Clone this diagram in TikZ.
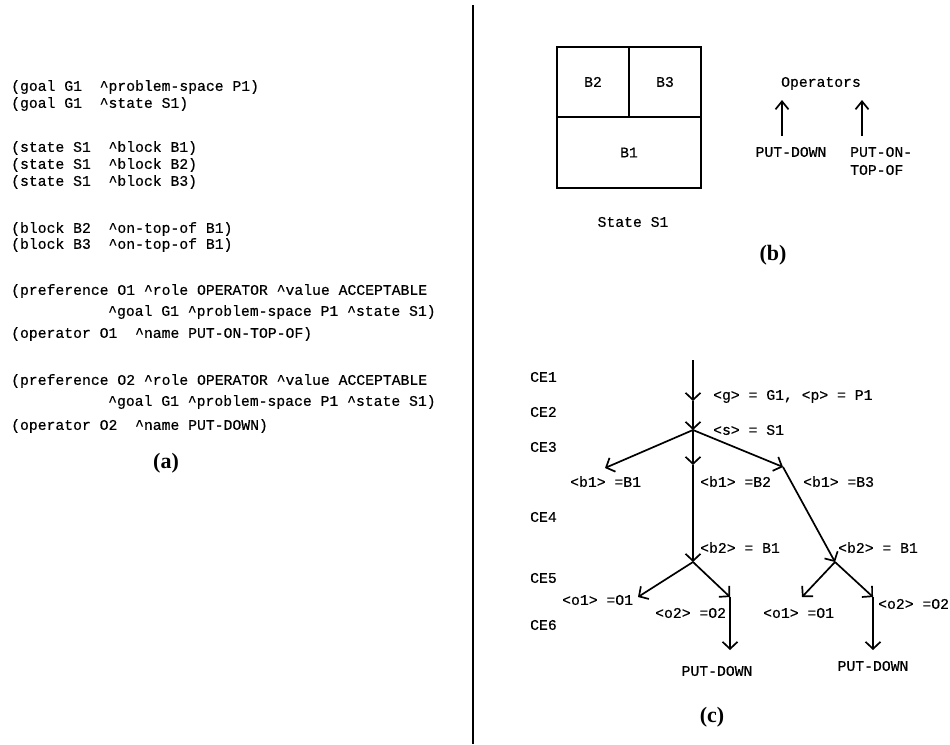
\documentclass[tikz,border=0pt]{standalone}
\usepackage{fontspec}
\setmainfont{Liberation Serif}
\newfontfamily\courf[FakeBold=0.4]{Liberation Mono}
\usetikzlibrary{arrows.meta}
\newcommand\caret{\textasciicircum}
\begin{document}
\begin{tikzpicture}[x=1pt,y=-1pt,
  tt/.style={font=\courf\fontsize{14.75}{16}\selectfont, inner sep=0pt, text height=9.7pt, text depth=0pt, anchor=west},
  ttc/.style={tt, anchor=center},
  lab/.style={font=\bfseries\fontsize{22}{24}\selectfont, inner sep=0pt},
  blk/.style={draw, line width=1.7pt, font=\courf\fontsize{14.75}{16}\selectfont, inner sep=0pt, text height=9.7pt, text depth=0pt},
  arr/.style={line width=1.7pt, -{Straight Barb[length=7pt,width=15pt]}},
  arrup/.style={line width=1.7pt, -{Straight Barb[length=8pt,width=13pt]}}]
\useasboundingbox (0,0) rectangle (950,744);
\fill[white] (0,0) rectangle (950,744);

% divider
\coordinate (dtop) at (473,5);
\coordinate (dbot) at (473,744);
\draw[line width=2.8pt] (dtop) -- (dbot);

% ---------- panel (a)
\node[tt] (l1) at (11,86) {(goal G1\ \ \caret problem-space P1)};
\node[tt] (l2) at (11,103) {(goal G1\ \ \caret state S1)};
\node[tt] (l3) at (11,147) {(state S1\ \ \caret block B1)};
\node[tt] (l4) at (11,164) {(state S1\ \ \caret block B2)};
\node[tt] (l5) at (11,181) {(state S1\ \ \caret block B3)};
\node[tt] (l6) at (11,228) {(block B2\ \ \caret on-top-of B1)};
\node[tt] (l7) at (11,244) {(block B3\ \ \caret on-top-of B1)};
\node[tt] (l8) at (11,290) {(preference O1 \caret role OPERATOR \caret value ACCEPTABLE};
\node[tt] (l9) at (108,311) {\caret goal G1 \caret problem-space P1 \caret state S1)};
\node[tt] (l10) at (11,333) {(operator O1\ \ \caret name PUT-ON-TOP-OF)};
\node[tt] (l11) at (11,380) {(preference O2 \caret role OPERATOR \caret value ACCEPTABLE};
\node[tt] (l12) at (108,401) {\caret goal G1 \caret problem-space P1 \caret state S1)};
\node[tt] (l13) at (11,425) {(operator O2\ \ \caret name PUT-DOWN)};
\node[lab] (capa) at (166,463) {(a)};

% ---------- panel (b)
\node[blk, minimum width=72pt, minimum height=70pt] (bB2) at (593,82) {B2};
\node[blk, minimum width=72pt, minimum height=70pt] (bB3) at (665,82) {B3};
\node[blk, minimum width=144pt, minimum height=71pt] (bB1) at (629,152.5) {B1};
\node[ttc] (state) at (633,222) {State S1};
\node[ttc] (ops) at (821,82) {Operators};
\node[ttc] (pd) at (791,152) {PUT-DOWN};
\node[tt] (pt1) at (850,152) {PUT-ON-};
\node[tt] (pt2) at (850,170) {TOP-OF};
\coordinate (u1s) at (782,136);
\coordinate (u1e) at (782,100);
\coordinate (u2s) at (862,136);
\coordinate (u2e) at (862,100);
\draw[arrup] (u1s) -- (u1e);
\draw[arrup] (u2s) -- (u2e);
\node[lab] (capb) at (773,255) {(b)};

% ---------- panel (c)
\node[tt] (ce1) at (530,377) {CE1};
\node[tt] (ce2) at (530,412) {CE2};
\node[tt] (ce3) at (530,447) {CE3};
\node[tt] (ce4) at (530,517) {CE4};
\node[tt] (ce5) at (530,578) {CE5};
\node[tt] (ce6) at (530,625) {CE6};

\coordinate (t0) at (693,360);
\coordinate (g) at (693,401);
\coordinate (j1) at (693,430);
\coordinate (lb1) at (605,468);
\coordinate (m1) at (693,465);
\coordinate (rb1) at (783,467);
\coordinate (j2) at (693,562);
\coordinate (j3) at (835,562);
\coordinate (o1l) at (638,597);
\coordinate (o2l) at (730,597);
\coordinate (pdl) at (730,650);
\coordinate (o1r) at (802,597);
\coordinate (o2r) at (873,597);
\coordinate (pdr) at (873,650);

\draw[arr] (t0) -- (g);
\draw[arr] (g) -- (j1);
\draw[arr] (j1) -- (lb1);
\draw[arr] (j1) -- (m1);
\draw[arr] (j1) -- (rb1);
\draw[arr] (m1) -- (j2);
\draw[arr] (rb1) -- (j3);
\draw[arr] (j2) -- (o1l);
\draw[arr] (j2) -- (o2l);
\draw[arr] (o2l) -- (pdl);
\draw[arr] (j3) -- (o1r);
\draw[arr] (j3) -- (o2r);
\draw[arr] (o2r) -- (pdr);

\node[tt] (lgp) at (713,395) {<g> = G1, <p> = P1};
\node[tt] (ls) at (713,430) {<s> = S1};
\node[tt] (lb1a) at (570,482) {<b1> =B1};
\node[tt] (lb1b) at (700,482) {<b1> =B2};
\node[tt] (lb1c) at (803,482) {<b1> =B3};
\node[tt] (lb2a) at (700,548) {<b2> = B1};
\node[tt] (lb2b) at (838,548) {<b2> = B1};
\node[tt] (lo1a) at (562,600) {<o1> =O1};
\node[tt] (lo2a) at (655,613) {<o2> =O2};
\node[tt] (lo1b) at (763,613) {<o1> =O1};
\node[tt] (lo2b) at (878,604) {<o2> =O2};
\node[ttc] (pdn1) at (717,671) {PUT-DOWN};
\node[ttc] (pdn2) at (873,666) {PUT-DOWN};
\node[lab] (capc) at (712,717) {(c)};
\end{tikzpicture}
\end{document}
